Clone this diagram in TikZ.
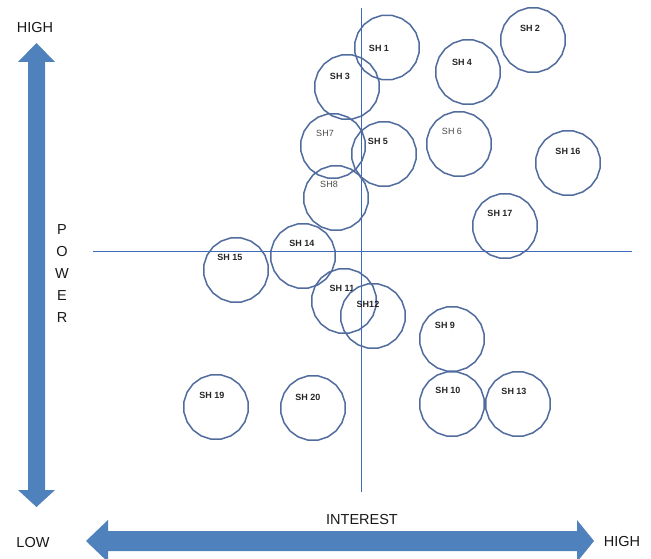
\documentclass[tikz,border=0pt]{standalone}
\usepackage{fontspec}
\setmainfont{Liberation Sans}
\usetikzlibrary{shapes.geometric}
\definecolor{arrowblue}{RGB}{79,129,189}
\definecolor{axisblue}{RGB}{60,105,185}
\definecolor{circblue}{RGB}{80,108,158}
\begin{document}
\begin{tikzpicture}[x=1pt,y=-1pt,
  shc/.style={regular polygon, regular polygon sides=20, draw=circblue, line width=1.5pt,
    minimum size=65pt, inner sep=0pt},
  shl/.style={font=\fontsize{9}{10}\selectfont\bfseries, text=black!85, inner sep=0pt},
  shr/.style={font=\fontsize{9}{10}\selectfont, text=black!70, inner sep=0pt},
  axl/.style={font=\fontsize{14.5}{16}\selectfont, text=black!90, inner sep=0pt},
  quadline/.style={fill=axisblue, draw=none},
  bigarrow/.style={fill=arrowblue, draw=none}]
\useasboundingbox (0,0) rectangle (651,559);
\fill[white] (0,0) rectangle (651,559);

% axis lines (quadrant dividers)
\path[quadline] (360.6,8) rectangle (362.4,492);
\path[quadline] (93,250.6) rectangle (632,252.4);

% big arrows
\path[bigarrow] (28,62) -- (18,62) -- (36.5,43) -- (55,62) -- (45,62) -- (45,490)
  -- (55,490) -- (36.5,507) -- (18,490) -- (28,490) -- cycle;
\path[bigarrow] (108,531) -- (108,520) -- (86,541) -- (108,562) -- (108,551) -- (577,551)
  -- (577,562) -- (594,541) -- (577,520) -- (577,531) -- cycle;

% axis texts
\node[axl] (hightop) at (35,28) {HIGH};
\node[axl] (low) at (33,543) {LOW};
\node[axl] (highbot) at (622,542) {HIGH};
\node[axl] (interest) at (362,520) {INTEREST};
\node[axl, align=center, font=\fontsize{14.5}{22}\selectfont] (power) at (62,273.5) {P\\O\\W\\E\\R};

% stakeholders
\node[shc, label={[shl,xshift=-8pt,yshift=-1pt]center:SH 1}] (s1) at (387,47.5) {};
\node[shc, label={[shl,xshift=-3pt,yshift=12pt]center:SH 2}] (s2) at (533,40) {};
\node[shc, label={[shl,xshift=-7pt,yshift=11pt]center:SH 3}] (s3) at (347,87) {};
\node[shc, label={[shl,xshift=-6pt,yshift=10pt]center:SH 4}] (s4) at (468,72) {};
\node[shc, label={[shl,xshift=-6pt,yshift=13pt]center:SH 5}] (s5) at (384,154) {};
\node[shc, label={[shr,xshift=-7pt,yshift=13pt]center:SH 6}] (s6) at (459,144) {};
\node[shc, label={[shr,xshift=-8pt,yshift=13pt]center:SH7}] (s7) at (333,146) {};
\node[shc, label={[shr,xshift=-7pt,yshift=14pt]center:SH8}] (s8) at (336,198) {};
\node[shc, label={[shl,xshift=-7pt,yshift=14pt]center:SH 9}] (s9) at (452,339) {};
\node[shc, label={[shl,xshift=-4pt,yshift=14pt]center:SH 10}] (s10) at (452,404) {};
\node[shc, label={[shl,xshift=-2pt,yshift=13pt]center:SH 11}] (s11) at (344,301) {};
\node[shc, label={[shl,xshift=-5pt,yshift=12pt]center:SH12}] (s12) at (373,316) {};
\node[shc, label={[shl,xshift=-4pt,yshift=13pt]center:SH 13}] (s13) at (518,404) {};
\node[shc, label={[shl,xshift=-1pt,yshift=13pt]center:SH 14}] (s14) at (303,256) {};
\node[shc, label={[shl,xshift=-6pt,yshift=13pt]center:SH 15}] (s15) at (236,270) {};
\node[shc, label={[shl,xshift=0pt,yshift=12pt]center:SH 16}] (s16) at (568,163) {};
\node[shc, label={[shl,xshift=-5pt,yshift=13pt]center:SH 17}] (s17) at (505,226) {};
\node[shc, label={[shl,xshift=-4pt,yshift=12pt]center:SH 19}] (s19) at (216,407) {};
\node[shc, label={[shl,xshift=-5pt,yshift=11pt]center:SH 20}] (s20) at (313,408) {};
\end{tikzpicture}
\end{document}
